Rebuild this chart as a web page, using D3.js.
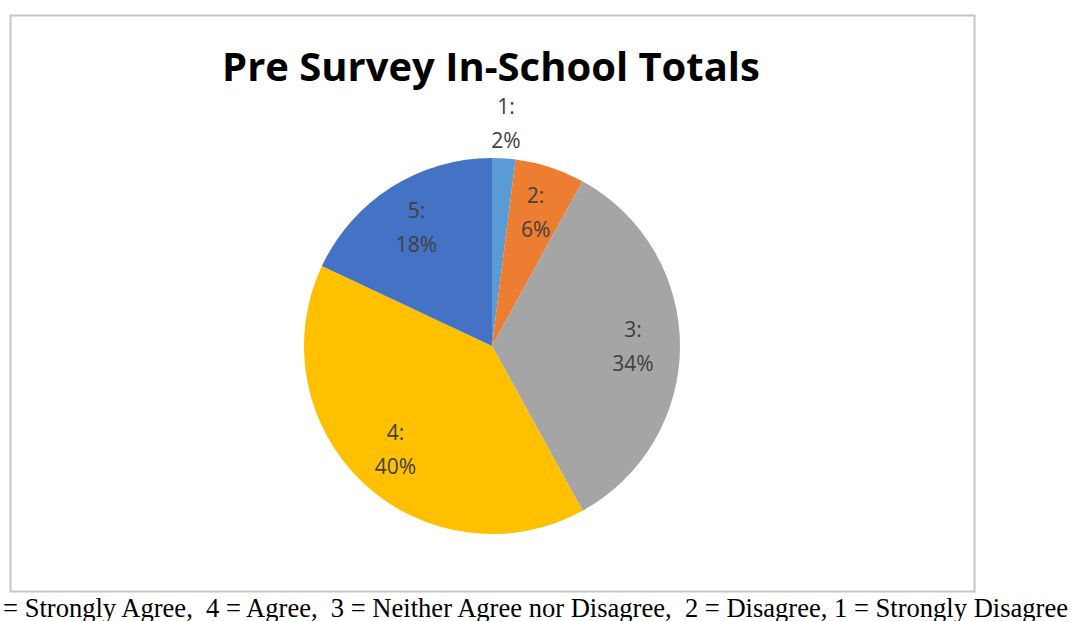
<!DOCTYPE html>
<html>
<head>
<meta charset="utf-8">
<script src="https://cdn.jsdelivr.net/npm/d3@7"></script>
<style>
  body { margin: 0; background: #fff; overflow: hidden; }
</style>
</head>
<body>
<svg width="1071" height="621"></svg>
<script>
var categories = ["1", "2", "3", "4", "5"];
var values = [2, 6, 34, 40, 18];
var colors = ["#5B9BD5", "#ED7D31", "#A5A5A5", "#FFC000", "#4472C4"];
var title = "Pre Survey In-School Totals";
var caption = "5 = Strongly Agree,  4 = Agree,  3 = Neither Agree nor Disagree,  2 = Disagree, 1 = Strongly Disagree";

var svg = d3.select("svg"),
    width = +svg.attr("width"),
    height = +svg.attr("height");

// chart frame
svg.append("rect")
    .attr("x", 10.5).attr("y", 15.5)
    .attr("width", 964).attr("height", 576)
    .attr("fill", "#fff")
    .attr("stroke", "#c6c6c6")
    .attr("stroke-width", 2);

var t = svg.append("text")
    .attr("x", 491).attr("y", 81)
    .attr("text-anchor", "middle")
    .attr("font-family", "'Open Sans', sans-serif")
    .attr("font-weight", "bold")
    .attr("font-size", 40)
    .attr("fill", "#000")
    .text(title);
// fit title width to the reference
var tw = t.node().getComputedTextLength();
t.attr("font-size", 40 * 538 / tw);

var cx = 492, cy = 346, r = 188;

var pie = d3.pie().sort(null).value(function (d) { return d.value; });
var data = categories.map(function (c, i) { return { name: c, value: values[i], color: colors[i] }; });
var arcs = pie(data);

var arc = d3.arc().innerRadius(0).outerRadius(r);
var labelArc = d3.arc().innerRadius(r * 0.75).outerRadius(r * 0.75);
var outerArc = d3.arc().innerRadius(r * 1.19).outerRadius(r * 1.19);

var g = svg.append("g").attr("transform", "translate(" + cx + "," + cy + ")");

g.selectAll("path")
    .data(arcs)
    .enter().append("path")
    .attr("d", arc)
    .attr("fill", function (d) { return d.data.color; });

var labels = g.selectAll("text.lbl")
    .data(arcs)
    .enter().append("text")
    .attr("class", "lbl")
    .attr("text-anchor", "middle")
    .attr("font-family", "'Open Sans', sans-serif")
    .attr("font-size", 21)
    .attr("fill", "#404040")
    .attr("transform", function (d) {
        var p = (d.data.value < 4 ? outerArc : labelArc).centroid(d);
        return "translate(" + p[0] + "," + p[1] + ")";
    });

labels.append("tspan").attr("x", 0).attr("y", -9).text(function (d) { return d.data.name + ":"; });
labels.append("tspan").attr("x", 0).attr("y", 25).text(function (d) { return d.data.value + "%"; });

var c = svg.append("text")
    .attr("x", 1068).attr("y", 617)
    .attr("text-anchor", "end")
    .attr("font-family", "'Liberation Serif', 'Times New Roman', serif")
    .attr("font-size", 21)
    .attr("fill", "#000")
    .attr("xml:space", "preserve")
    .style("white-space", "pre")
    .text(caption);
var cw = c.node().getComputedTextLength();
c.attr("font-size", 21 * 1085 / cw);
</script>
</body>
</html>
